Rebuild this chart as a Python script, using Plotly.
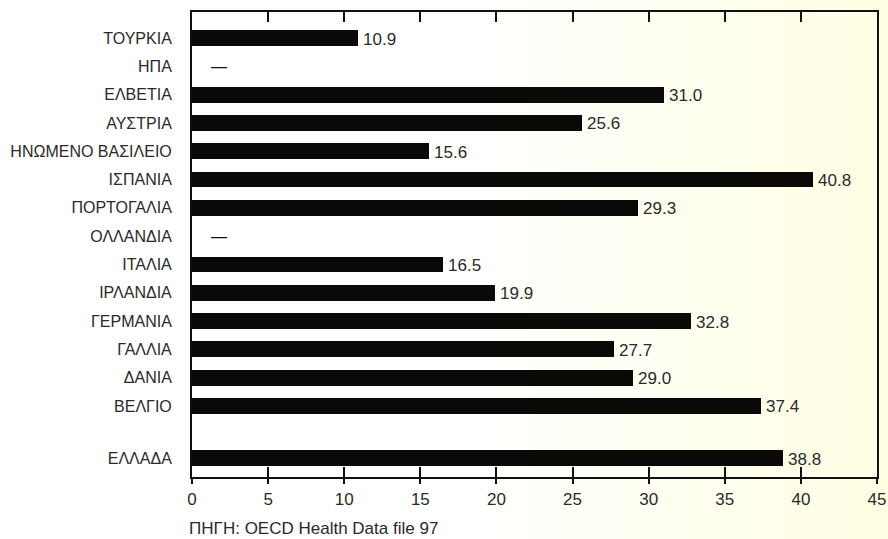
import plotly.graph_objects as go

# Categories from top to bottom; the last one (Greece) is set apart by a gap
categories = [
    "ΤΟΥΡΚΙΑ", "ΗΠΑ", "ΕΛΒΕΤΙΑ", "ΑΥΣΤΡΙΑ", "ΗΝΩΜΕΝΟ ΒΑΣΙΛΕΙΟ", "ΙΣΠΑΝΙΑ",
    "ΠΟΡΤΟΓΑΛΙΑ", "ΟΛΛΑΝΔΙΑ", "ΙΤΑΛΙΑ", "ΙΡΛΑΝΔΙΑ", "ΓΕΡΜΑΝΙΑ", "ΓΑΛΛΙΑ",
    "ΔΑΝΙΑ", "ΒΕΛΓΙΟ", "ΕΛΛΑΔΑ",
]
values = [10.9, None, 31.0, 25.6, 15.6, 40.8, 29.3, None, 16.5, 19.9,
          32.8, 27.7, 29.0, 37.4, 38.8]
x_ticks = [0, 5, 10, 15, 20, 25, 30, 35, 40, 45]
source_text = "ΠΗΓΗ: OECD Health Data file 97"

FONT = "Liberation Sans, Arial, sans-serif"
TEXT = "#2a2a2a"
GAP = 1.84  # extra spacing between the main group and the last row

n = len(categories)
y_pos = [GAP + (n - 2 - i) for i in range(n - 1)] + [0.0]

bar_x = [v if v is not None else 0 for v in values]

fig = go.Figure()
fig.add_trace(go.Bar(
    x=bar_x, y=y_pos, orientation="h", width=0.56,
    marker=dict(color="#0b0808", line=dict(width=0)),
    hoverinfo="skip", showlegend=False,
))
# helper trace so the overlaid axis is rendered
fig.add_trace(go.Scatter(x=[0], y=[0], xaxis="x2", mode="markers",
                         marker=dict(opacity=0), showlegend=False,
                         hoverinfo="skip"))

annotations = []
for v, y in zip(values, y_pos):
    if v is None:
        annotations.append(dict(x=1.8, y=y, xref="x", yref="y", text="—",
                                showarrow=False, xanchor="center",
                                font=dict(family=FONT, size=16, color="#111")))
    else:
        annotations.append(dict(x=v, y=y, xref="x", yref="y", text=f"{v:.1f}",
                                showarrow=False, xanchor="left", xshift=3,
                                yshift=-1,
                                font=dict(family=FONT, size=17, color=TEXT)))
annotations.append(dict(x=0, y=0, xref="paper", yref="paper", text=source_text,
                        showarrow=False, xanchor="left", yanchor="middle",
                        xshift=-5, yshift=-51,
                        font=dict(family=FONT, size=17, color=TEXT)))

# warm paper tint that deepens toward the right edge
shapes = []
steps = 14
for i in range(steps):
    x0 = 0.40 + i * (1.05 - 0.40) / steps
    shapes.append(dict(type="rect", xref="paper", yref="paper",
                       x0=x0, x1=1.05, y0=-0.2, y1=1.05, layer="below",
                       line=dict(width=0),
                       fillcolor="rgba(240,236,180,0.022)"))

fig.update_layout(
    width=888, height=539,
    margin=dict(l=192, r=11, t=12, b=62, autoexpand=False),
    paper_bgcolor="white", plot_bgcolor="rgba(0,0,0,0)",
    bargap=0,
    annotations=annotations, shapes=shapes,
    xaxis=dict(range=[0, 45], tickvals=x_ticks, ticks="inside", ticklen=10,
               tickwidth=2, tickcolor="#111", mirror="ticks",
               showline=True, linecolor="#111", linewidth=2,
               showgrid=False, zeroline=False, ticklabelstandoff=6,
               automargin=False,
               tickfont=dict(family=FONT, size=17, color=TEXT)),
    xaxis2=dict(range=[0, 45], overlaying="x", side="bottom", anchor="y",
                tickvals=x_ticks, ticks="outside", ticklen=6, tickwidth=2,
                tickcolor="#111", showticklabels=False, showgrid=False,
                zeroline=False, showline=False, automargin=False),
    yaxis=dict(range=[-0.67, 15.76], tickvals=y_pos, ticktext=categories,
               ticks="", showline=True, linecolor="#111", linewidth=2,
               mirror=True, showgrid=False, zeroline=False,
               ticklabelstandoff=15, automargin=False,
               tickfont=dict(family=FONT, size=16, color=TEXT)),
)

fig.write_html("out.html")
